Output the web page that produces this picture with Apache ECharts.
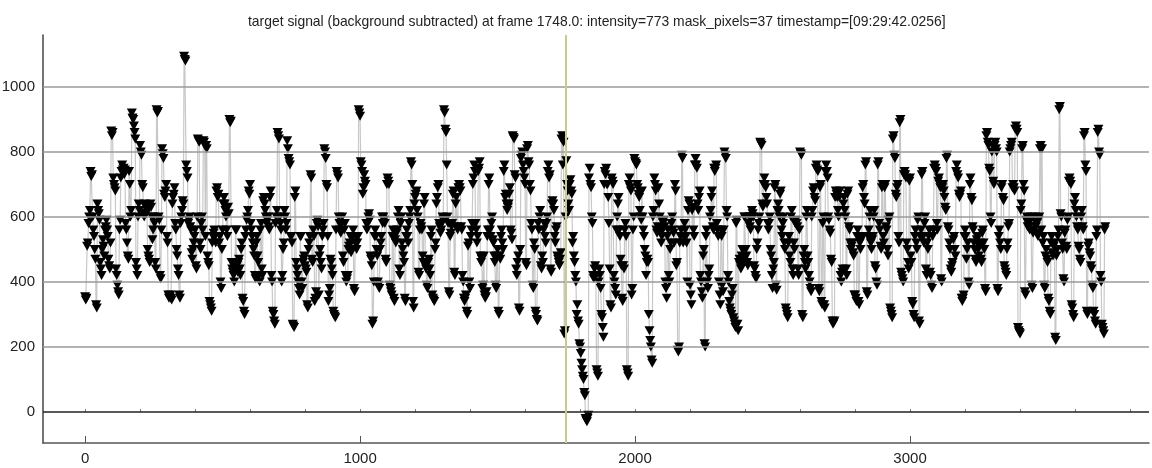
<!DOCTYPE html>
<html>
<head>
<meta charset="utf-8">
<script src="https://cdn.jsdelivr.net/npm/echarts@6/dist/echarts.min.js"></script>
<style>
html,body{margin:0;padding:0;background:#fff;}
#chart{width:1152px;height:468px;}
</style>
</head>
<body>
<div id="chart"></div>
<script>
const titleText = 'target signal (background subtracted) at frame 1748.0: intensity=773 mask_pixels=37 timestamp=[09:29:42.0256]';
const frameStep = 5;          // intensityA at frames 0,5,10,...; intensityB at frames 2.5,7.5,...
const currentFrame = 1748;
const xTickLabels = [0, 1000, 2000, 3000];
const xMinorTicks = [0, 200, 400, 600, 800, 1000, 1200, 1400, 1600, 1800, 2000, 2200, 2400, 2600, 2800, 3000, 3200, 3400, 3600, 3800];
const yTickLabels = [0, 200, 400, 600, 800, 1000];
const yGridLines = [200, 400, 600, 800, 1000];
const intensityA = [
355,350,520,600,740,730,560,500,330,640,610,460,420,530,480,570,560,470,440,865,
860,700,680,420,370,560,720,760,750,745,560,480,740,600,920,900,860,460,420,640,
820,790,690,600,630,620,480,460,630,530,600,460,930,925,590,410,810,780,660,700,
520,350,360,345,660,690,560,480,420,350,600,650,1095,1080,740,580,600,560,470,520,
560,440,840,830,500,600,835,820,820,480,450,330,310,540,560,520,690,670,540,380,
560,660,620,560,630,900,895,440,420,450,560,430,470,420,520,340,300,560,600,680,
700,560,520,480,410,540,460,400,580,420,660,620,580,600,560,680,400,300,270,600,
860,840,580,400,500,620,560,835,780,760,540,270,260,680,440,400,360,540,380,470,
450,430,320,520,730,470,560,340,370,590,360,500,440,560,810,780,690,340,380,460,
420,300,290,740,720,580,550,600,460,580,400,420,510,540,500,560,370,540,520,930,
910,760,670,730,700,560,600,590,470,270,400,560,500,400,380,520,600,600,580,460,
720,700,380,360,560,340,520,560,620,420,600,500,460,340,560,520,600,770,700,320,
660,680,600,420,580,560,460,660,440,380,470,420,560,350,340,520,660,700,570,560,
600,930,870,760,580,360,550,580,680,420,660,560,700,680,560,400,340,360,300,520,
380,560,700,760,580,520,740,770,460,380,480,350,370,560,720,540,600,520,460,380,
500,300,470,560,500,760,670,620,640,690,550,850,840,720,420,480,310,780,800,740,
700,450,820,760,680,560,380,500,300,280,560,620,440,460,580,520,600,760,730,430,
650,620,520,570,470,450,490,850,830,250,773,680,620,715,670,540,460,400,330,270,
200,150,110,60,-20,-30,-10,750,690,580,410,450,130,110,440,380,290,230,740,750,
700,580,330,720,700,400,360,600,660,540,450,340,440,580,130,110,720,680,380,600,
770,760,690,660,600,680,560,500,420,470,300,220,160,600,720,680,550,690,600,520,
560,590,400,350,560,400,520,600,550,700,450,190,200,540,790,520,580,540,400,650,
390,330,630,540,780,750,620,680,400,350,500,200,560,380,440,620,680,560,740,760,
560,400,330,540,370,800,780,600,400,320,300,380,280,260,590,250,470,440,500,460,
600,480,450,600,560,620,600,440,410,520,580,830,820,630,720,690,640,560,600,480,
380,460,700,375,640,600,680,540,600,500,310,290,540,460,620,420,500,590,570,420,
800,790,290,500,440,620,460,400,370,620,690,650,760,740,370,700,330,600,320,760,
720,590,550,460,270,280,680,660,600,680,400,440,660,600,420,680,560,500,520,480,
360,340,560,330,500,540,700,640,770,360,560,620,500,540,620,440,390,770,560,500,
700,520,700,560,480,600,310,290,850,780,660,700,520,900,420,400,740,720,500,440,
720,460,330,290,560,500,600,270,560,740,520,600,420,500,560,420,380,560,760,740,
560,720,690,400,700,660,620,790,560,500,430,460,540,480,760,720,660,680,340,360,
560,470,520,390,720,650,560,500,460,540,480,520,460,560,500,370,860,820,740,580,
820,700,830,800,370,560,500,700,650,440,420,520,580,810,830,700,680,880,860,250,
240,640,820,680,360,600,580,560,600,380,560,600,580,540,600,820,810,540,380,500,
460,340,300,540,480,520,220,500,560,940,600,500,400,560,500,600,720,700,320,290,
660,600,560,500,460,620,560,860,740,300,520,480,440,380,300,270,560,870,790,400,
260,240,570
];
const intensityB = [
345,510,580,620,725,600,540,470,320,620,590,440,500,510,560,590,540,450,520,850,
720,690,440,390,360,590,740,745,730,580,520,470,700,620,905,880,840,440,600,620,
800,700,610,640,610,500,470,640,600,560,580,440,920,600,420,560,795,670,680,540,
360,355,350,640,670,580,500,440,360,580,620,640,1085,760,720,590,570,490,500,540,
450,600,835,520,580,560,830,540,810,460,340,320,520,550,540,680,660,520,400,500,
640,640,600,540,610,890,460,430,400,560,450,460,440,500,350,310,540,590,620,670,
580,540,500,420,520,480,420,560,440,650,640,600,590,570,660,420,310,280,580,620,
850,600,560,420,520,600,580,810,770,540,520,265,660,460,420,380,540,400,460,480,
440,330,500,540,720,460,540,350,580,570,480,460,540,580,800,700,540,360,470,440,
310,295,560,730,600,560,580,480,560,420,410,500,520,490,540,380,520,500,540,920,
770,740,690,710,580,580,610,480,450,280,540,540,480,390,500,540,580,590,470,700,
710,390,370,540,350,530,550,600,440,580,520,480,350,540,540,580,620,760,340,640,
670,620,430,560,570,480,640,450,390,460,440,540,360,345,500,640,690,580,550,580,
590,920,860,600,370,540,570,670,430,640,570,690,690,570,420,350,350,310,510,400,
540,580,720,740,560,540,750,480,470,390,360,355,540,700,560,580,530,480,390,480,
310,480,540,520,740,660,640,630,670,560,530,845,730,440,460,320,500,790,760,720,
460,810,770,700,580,390,520,310,285,580,600,450,480,560,540,580,740,720,440,640,
640,540,560,480,460,470,840,760,240,600,700,640,700,680,520,480,420,300,280,210,
180,130,100,50,-25,-20,720,700,600,420,440,420,120,400,420,300,260,700,730,700,
660,440,320,710,420,380,560,640,560,470,350,450,560,540,120,700,690,360,560,780,
765,700,670,620,590,600,540,480,460,460,250,200,150,620,700,560,570,640,560,540,
580,570,380,540,420,500,580,560,520,680,460,185,520,560,780,540,560,520,620,640,
360,620,560,760,760,640,660,420,370,480,210,540,400,420,600,660,570,750,750,580,
540,360,560,390,560,790,620,420,340,310,360,290,270,580,270,460,450,480,470,600,
500,460,580,570,600,610,450,420,500,560,600,825,640,700,700,660,580,580,500,420,
440,690,390,620,620,670,560,580,520,320,300,520,480,600,440,520,580,580,440,560,
795,300,480,460,600,480,420,380,600,680,660,750,745,380,690,340,580,330,740,740,
600,560,470,280,275,660,670,620,660,420,430,640,620,440,670,570,520,510,490,360,
350,540,340,520,530,690,660,760,370,540,600,520,530,600,450,400,760,580,510,690,
540,690,570,500,590,320,300,840,790,670,690,540,890,430,410,730,730,520,460,710,
480,340,300,540,520,590,280,540,730,540,580,440,520,540,430,390,540,750,750,580,
710,700,410,690,680,630,780,570,520,440,450,530,500,740,730,670,670,350,350,540,
540,500,400,700,660,570,520,470,530,500,510,470,550,520,380,850,830,750,600,800,
710,820,810,380,540,520,690,660,450,430,500,570,800,820,690,690,870,870,260,245,
620,810,700,370,590,570,570,590,390,550,590,570,550,590,810,560,520,390,480,470,
350,310,520,490,510,230,480,540,930,610,520,410,550,510,590,710,710,330,300,640,
620,570,510,470,600,570,850,760,310,510,490,450,390,310,280,540,860,800,420,270,
250,560
];

const seriesData = [];
intensityA.forEach((v, i) => {
  seriesData.push([i * frameStep, v]);
  if (i < intensityB.length) seriesData.push([i * frameStep + frameStep / 2, intensityB[i]]);
});

const chart = echarts.init(document.getElementById('chart'), null, {renderer: 'canvas'});
const fontFam = '"Liberation Sans", Arial, sans-serif';

const gridMarks = yGridLines.map(v => ({yAxis: v, lineStyle: {color: '#9a9a9a', width: 1.5, type: 'solid'}}));
gridMarks.push({yAxis: 0, lineStyle: {color: '#222', width: 1.5, type: 'solid'}});
gridMarks.push({xAxis: currentFrame, lineStyle: {color: '#c9ca8e', width: 2, type: 'solid'}});

chart.setOption({
  animation: false,
  backgroundColor: '#ffffff',
  title: {
    text: titleText,
    left: 243,
    top: 10,
    textStyle: {fontSize: 13.9, fontWeight: 'normal', color: '#222', fontFamily: fontFam}
  },
  grid: {left: 43, right: 3, top: 35, bottom: 25, containLabel: false, outerBoundsMode: 'none'},
  xAxis: [{
    type: 'value',
    min: -153, max: 3869,
    axisLine: {show: true, onZero: false, lineStyle: {color: '#555', width: 1.5}},
    axisTick: {show: true, inside: true, length: 7, customValues: xTickLabels, lineStyle: {color: '#555'}},
    axisLabel: {customValues: xTickLabels, formatter: v => String(v), fontSize: 15, color: '#222', margin: 8, fontFamily: fontFam},
    splitLine: {show: false}
  }, {
    type: 'value',
    position: 'bottom',
    min: -153, max: 3869,
    axisLine: {show: false},
    axisTick: {show: true, inside: true, length: 3, customValues: xMinorTicks, lineStyle: {color: '#777'}},
    axisLabel: {show: false},
    splitLine: {show: false}
  }],
  yAxis: {
    type: 'value',
    min: -95, max: 1160,
    axisLine: {show: true, onZero: false, lineStyle: {color: '#444', width: 1.5}},
    axisTick: {show: false},
    axisLabel: {customValues: yTickLabels, formatter: v => String(v), fontSize: 15, color: '#222', margin: 8, fontFamily: fontFam},
    splitLine: {show: false}
  },
  series: [{
    type: 'line',
    data: seriesData,
    symbol: 'triangle',
    symbolRotate: 180,
    symbolSize: [10, 9],
    showAllSymbol: true,
    itemStyle: {color: '#000'},
    lineStyle: {color: '#c8c8c8', width: 1.2},
    z: 3,
    markLine: {
      silent: true,
      symbol: 'none',
      label: {show: false},
      animation: false,
      data: gridMarks
    }
  }]
});
</script>
</body>
</html>
